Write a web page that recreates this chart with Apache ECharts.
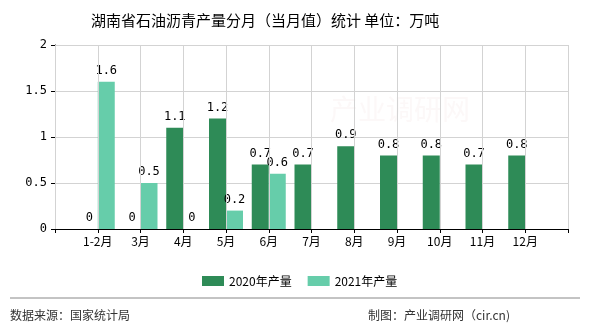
<!DOCTYPE html>
<html><head><meta charset="utf-8">
<script src="https://cdn.jsdelivr.net/npm/echarts@6/dist/echarts.min.js"></script>
<style>html,body{margin:0;padding:0;background:#fff}#c{width:590px;height:330px}</style>
</head><body><div id="c"></div>
<script>
const categories = ['1-2月','3月','4月','5月','6月','7月','8月','9月','10月','11月','12月'];
const values2020 = [0, 0, 1.1, 1.2, 0.7, 0.7, 0.9, 0.8, 0.8, 0.7, 0.8];
const values2021 = [1.6, 0.5, 0, 0.2, 0.6];
const yTicks = [0, 0.5, 1, 1.5, 2];
const seriesNames = ['2020年产量', '2021年产量'];

const pad = arr => ['-'].concat(categories.map((c, i) => i < arr.length ? arr[i] : '-'), ['-']);
const cats = [''].concat(categories, ['']);
const labelFont = {show: true, position: 'top', distance: 5, color: '#000', fontSize: 12, fontFamily: 'DejaVu Sans Mono'};

const chart = echarts.init(document.getElementById('c'));
chart.setOption({
  animation: false,
  backgroundColor: '#fff',
  title: {text: '湖南省石油沥青产量分月（当月值）统计 单位：万吨', left: 86, top: 8,
    textStyle: {fontSize: 15, fontWeight: 'normal', color: '#000', fontFamily: 'Noto Sans CJK SC'}},
  legend: {data: seriesNames, left: 197, top: 270, itemWidth: 22, itemHeight: 10, itemGap: 16,
    textStyle: {fontSize: 12, color: '#000', fontFamily: 'Noto Sans CJK SC'}, icon: 'rect'},
  grid: {left: 55, right: 22, top: 45, bottom: 101},
  xAxis: {type: 'category', data: cats, boundaryGap: false,
    axisLine: {lineStyle: {color: '#000'}}, axisTick: {show: true, length: 4, interval: 0, lineStyle: {color: '#000'}},
    axisLabel: {color: '#000', fontSize: 12, interval: 0, margin: 6, fontFamily: 'Noto Sans CJK SC'},
    splitLine: {show: true, interval: 0, lineStyle: {color: '#d3d3d3', width: 1}}},
  yAxis: {type: 'value', min: yTicks[0], max: yTicks[yTicks.length - 1], interval: 0.5,
    axisLine: {show: true, lineStyle: {color: '#000'}}, axisTick: {show: true, length: 4, lineStyle: {color: '#000'}},
    axisLabel: {color: '#000', fontSize: 12, fontFamily: 'DejaVu Sans Mono'},
    splitLine: {show: true, lineStyle: {color: '#d3d3d3'}}},
  graphic: [
    {type: 'text', left: 330, top: 95, style: {text: '产业调研网', fontSize: 28, fill: 'rgba(240,215,215,0.18)', fontFamily: 'Noto Sans CJK SC'}, z: 0},
    {type: 'line', shape: {x1: 10, y1: 298, x2: 580, y2: 298}, style: {stroke: '#888', lineWidth: 1}},
    {type: 'text', left: 10, top: 309, style: {text: '数据来源：国家统计局', fontSize: 12, fill: '#333', fontFamily: 'Noto Sans CJK SC'}},
    {type: 'text', left: 368, top: 309, style: {text: '制图：产业调研网（cir.cn)', fontSize: 12, fill: '#333', fontFamily: 'Noto Sans CJK SC'}}
  ],
  series: [
    {name: 'grid', type: 'line', data: [], z: 1, silent: true,
      markLine: {silent: true, symbol: ['none', 'none'], label: {show: false},
        lineStyle: {color: '#d3d3d3', width: 1, type: 'solid'},
        data: cats.map((c, i) => ({xAxis: i}))}},
    {name: seriesNames[0], type: 'bar', data: pad(values2020), barWidth: 17, barGap: '0%', z: 3,
      itemStyle: {color: '#2e8b57'}, label: labelFont},
    {name: seriesNames[1], type: 'bar', data: pad(values2021), barWidth: 17, barGap: '0%', z: 3,
      itemStyle: {color: '#66cdaa'}, label: labelFont}
  ]
});
</script></body></html>
